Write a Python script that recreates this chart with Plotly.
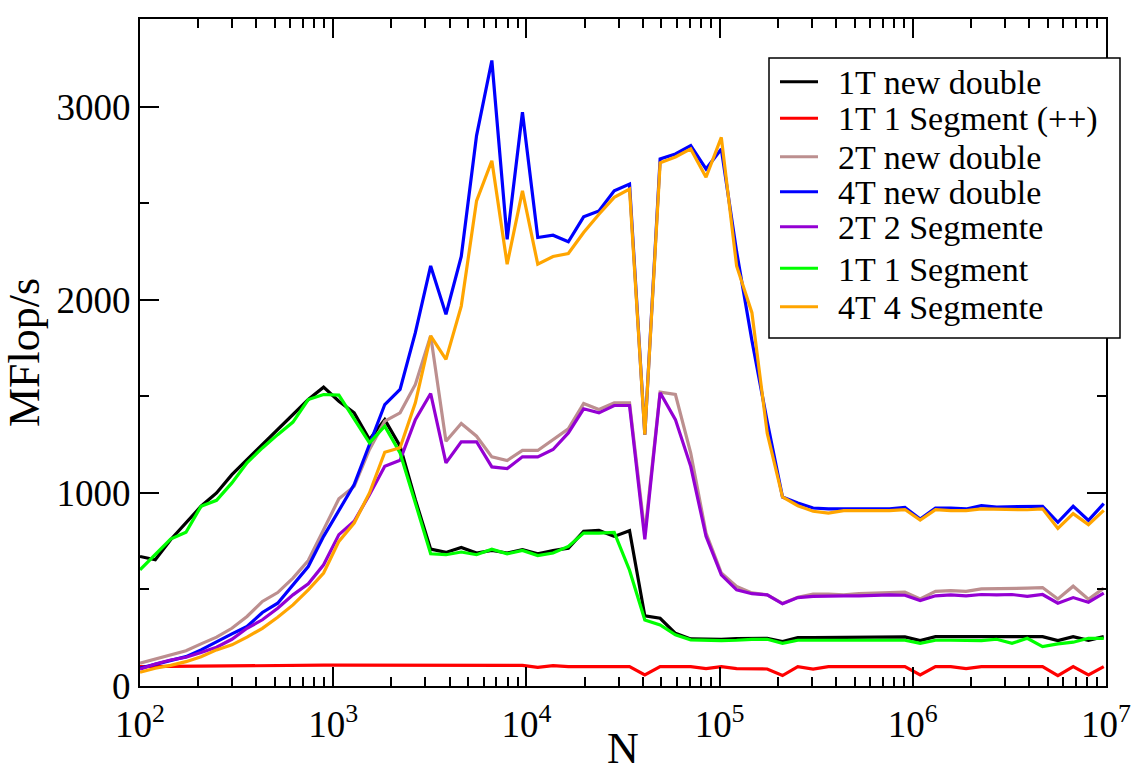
import plotly.graph_objects as go

# ---- data ----
N = [100, 120, 144, 173, 207, 249, 299, 358, 430, 516, 619, 743, 892, 1070, 1284, 1541,
     1849, 2219, 2662, 3195, 3834, 4601, 5521, 6625, 7950, 9540, 11448, 13737, 16485,
     19781, 23738, 28485, 34182, 41019, 49222, 59067, 70880, 85056, 102068, 122481,
     146977, 176373, 211647, 253977, 304772, 365727, 438872, 526646, 631975, 758371,
     910045, 1092054, 1310464, 1572557, 1887068, 2264482, 2717378, 3260854, 3913025,
     4695630, 5634756, 6761707, 8114049, 9736858]

t1_new_double = [671, 654, 758, 844, 931, 1000, 1095, 1173, 1251, 1328, 1406, 1484, 1548,
                 1475, 1415, 1277, 1380, 1242, 965, 709, 692, 718, 689, 702, 689, 706, 685,
                 702, 714, 801, 806, 775, 804, 363, 351, 273, 244, 242, 242, 245, 247, 247,
                 230, 251, 251, 252, 253, 254, 254, 254, 254, 235, 256, 256, 256, 256, 256,
                 256, 256, 256, 235, 256, 237, 256]

t1_1seg_pp = [100, 101, 102, 103, 104, 105, 106, 106, 107, 107, 107, 108, 108, 108, 108, 108,
              108, 108, 107, 107, 108, 108, 108, 108, 108, 107, 97, 106, 100, 100, 100, 100,
              100, 57, 100, 100, 100, 90, 100, 90, 88, 88, 54, 100, 88, 100, 100, 100, 100,
              100, 100, 57, 100, 100, 90, 100, 100, 100, 100, 100, 54, 100, 57, 100]

t2_new_double = [118, 140, 164, 183, 218, 253, 299, 360, 438, 484, 559, 650, 810, 970, 1034,
                 1225, 1372, 1415, 1562, 1815, 1268, 1360, 1294, 1187, 1168, 1220, 1220, 1277,
                 1332, 1463, 1432, 1467, 1467, 790, 1522, 1510, 1207, 792, 585, 516, 482, 472,
                 428, 460, 476, 476, 472, 478, 481, 481, 486, 451, 490, 494, 490, 503, 503, 507,
                 507, 510, 451, 517, 449, 507]

t4_new_double = [92, 113, 135, 152, 187, 230, 270, 308, 381, 429, 524, 619, 775, 913, 1043,
                 1251, 1458, 1536, 1830, 2176, 1925, 2225, 2851, 3240, 2314, 2972, 2323, 2335,
                 2301, 2430, 2461, 2565, 2600, 1302, 2730, 2756, 2799, 2678, 2782, 2250, 1790,
                 1370, 979, 948, 922, 918, 918, 918, 918, 918, 925, 865, 922, 922, 917, 934,
                 927, 927, 927, 931, 848, 931, 858, 945]

t2_2seg = [87, 114, 135, 149, 173, 201, 242, 299, 343, 403, 472, 529, 628, 784, 853, 991, 1138,
           1169, 1380, 1515, 1156, 1265, 1265, 1135, 1126, 1187, 1187, 1225, 1311, 1436, 1415,
           1453, 1453, 760, 1519, 1380, 1138, 775, 576, 498, 478, 472, 426, 458, 464, 467, 467,
           467, 470, 472, 470, 443, 467, 472, 467, 474, 472, 474, 464, 474, 429, 458, 434, 481]

t1_1seg = [602, 681, 761, 796, 931, 962, 1052, 1156, 1233, 1302, 1367, 1484, 1510, 1507, 1380,
           1259, 1346, 1207, 948, 685, 680, 694, 680, 709, 685, 702, 676, 689, 723, 792, 792,
           796, 600, 342, 316, 265, 239, 235, 235, 237, 242, 242, 221, 237, 237, 237, 237, 237,
           237, 237, 237, 221, 237, 237, 237, 235, 242, 221, 247, 204, 218, 227, 247, 247]

t4_4seg = [71, 92, 107, 126, 152, 187, 213, 253, 299, 356, 420, 498, 585, 749, 844, 1000, 1211,
           1234, 1467, 1813, 1692, 1968, 2513, 2721, 2185, 2565, 2185, 2225, 2240, 2349, 2444,
           2531, 2574, 1302, 2710, 2740, 2782, 2635, 2842, 2176, 1934, 1310, 979, 934, 905,
           896, 908, 910, 908, 908, 914, 860, 913, 908, 908, 917, 917, 913, 913, 918, 816, 893,
           836, 910]

series_names = ["1T new double", "1T 1 Segment (++)", "2T new double", "4T new double",
                "2T 2 Segmente", "1T 1 Segment", "4T 4 Segmente"]
series_values = [t1_new_double, t1_1seg_pp, t2_new_double, t4_new_double,
                 t2_2seg, t1_1seg, t4_4seg]
series_colors = ["#000000", "#ff0000", "#bc8f8f", "#0000ff", "#9400d3", "#00ff00", "#ffa500"]

x_tick_vals = [1e2, 1e3, 1e4, 1e5, 1e6, 1e7]
x_tick_text = ["10<sup>2</sup>", "10<sup>3</sup>", "10<sup>4</sup>", "10<sup>5</sup>",
               "10<sup>6</sup>", "10<sup>7</sup>"]
y_tick_vals = [0, 1000, 2000, 3000]
y_tick_text = ["0", "1000", "2000", "3000"]

# ---- figure ----
W, H = 1138, 773
ML, MR, MT, MB = 140, 32, 19, 87
PW, PH = W - ML - MR, H - MT - MB
FONT = "Liberation Serif, Times New Roman, serif"


def px2paper_x(px):
    return (px - ML) / PW


def px2paper_y(py):
    return (H - MB - py) / PH


fig = go.Figure()
for name, vals, col in zip(series_names, series_values, series_colors):
    fig.add_trace(go.Scatter(x=N, y=vals, mode="lines", name=name,
                             line=dict(color=col, width=3.2), showlegend=False))

minor_x = [m * 10 ** e for e in range(2, 7) for m in range(2, 10)]

fig.update_layout(
    width=W, height=H,
    margin=dict(l=ML, r=MR, t=MT, b=MB),
    paper_bgcolor="white", plot_bgcolor="white",
    font=dict(family=FONT, size=37, color="black"),
    xaxis=dict(type="log", range=[2, 7], showgrid=False, zeroline=False, automargin=False,
               showline=True, linecolor="black", linewidth=2, mirror="ticks",
               ticks="inside", ticklen=19, tickwidth=1.5, tickcolor="black",
               tickmode="array", tickvals=x_tick_vals, ticktext=x_tick_text,
               tickfont=dict(size=37), ticklabelstandoff=5,
               minor=dict(tickmode="array", tickvals=minor_x, ticks="inside",
                          ticklen=9, tickwidth=1.5, tickcolor="black", showgrid=False),
               title=dict(text="N", font=dict(size=44), standoff=14)),
    yaxis=dict(range=[0, 3455], showgrid=False, zeroline=False, automargin=False,
               showline=True, linecolor="black", linewidth=2, mirror="ticks",
               ticks="inside", ticklen=19, tickwidth=1.5, tickcolor="black",
               tickmode="array", tickvals=y_tick_vals, ticktext=y_tick_text,
               tickfont=dict(size=37),
               minor=dict(tickmode="linear", tick0=0, dtick=500, ticks="inside",
                          ticklen=9, tickwidth=1.5, tickcolor="black", showgrid=False),
               title=dict(text="MFlop/s", font=dict(size=44), standoff=10)),
)

# ---- legend box (drawn like the original xmgrace legend) ----
box_l, box_r, box_t, box_b = 769, 1120, 58, 338
fig.add_shape(type="rect", xref="paper", yref="paper",
              x0=px2paper_x(box_l), x1=px2paper_x(box_r),
              y0=px2paper_y(box_b), y1=px2paper_y(box_t),
              line=dict(color="black", width=1.5), fillcolor="white", layer="above")
row_y = [81.7, 118.3, 156.7, 191.7, 226.7, 268.3, 306.7]
for name, col, ry in zip(series_names, series_colors, row_y):
    fig.add_shape(type="line", xref="paper", yref="paper",
                  x0=px2paper_x(780), x1=px2paper_x(818),
                  y0=px2paper_y(ry), y1=px2paper_y(ry),
                  line=dict(color=col, width=3), layer="above")
    fig.add_annotation(xref="paper", yref="paper", x=px2paper_x(836), y=px2paper_y(ry + 1),
                       text=name, showarrow=False, xanchor="left", yanchor="middle",
                       font=dict(family=FONT, size=34, color="black"))

fig.write_html("out.html")
